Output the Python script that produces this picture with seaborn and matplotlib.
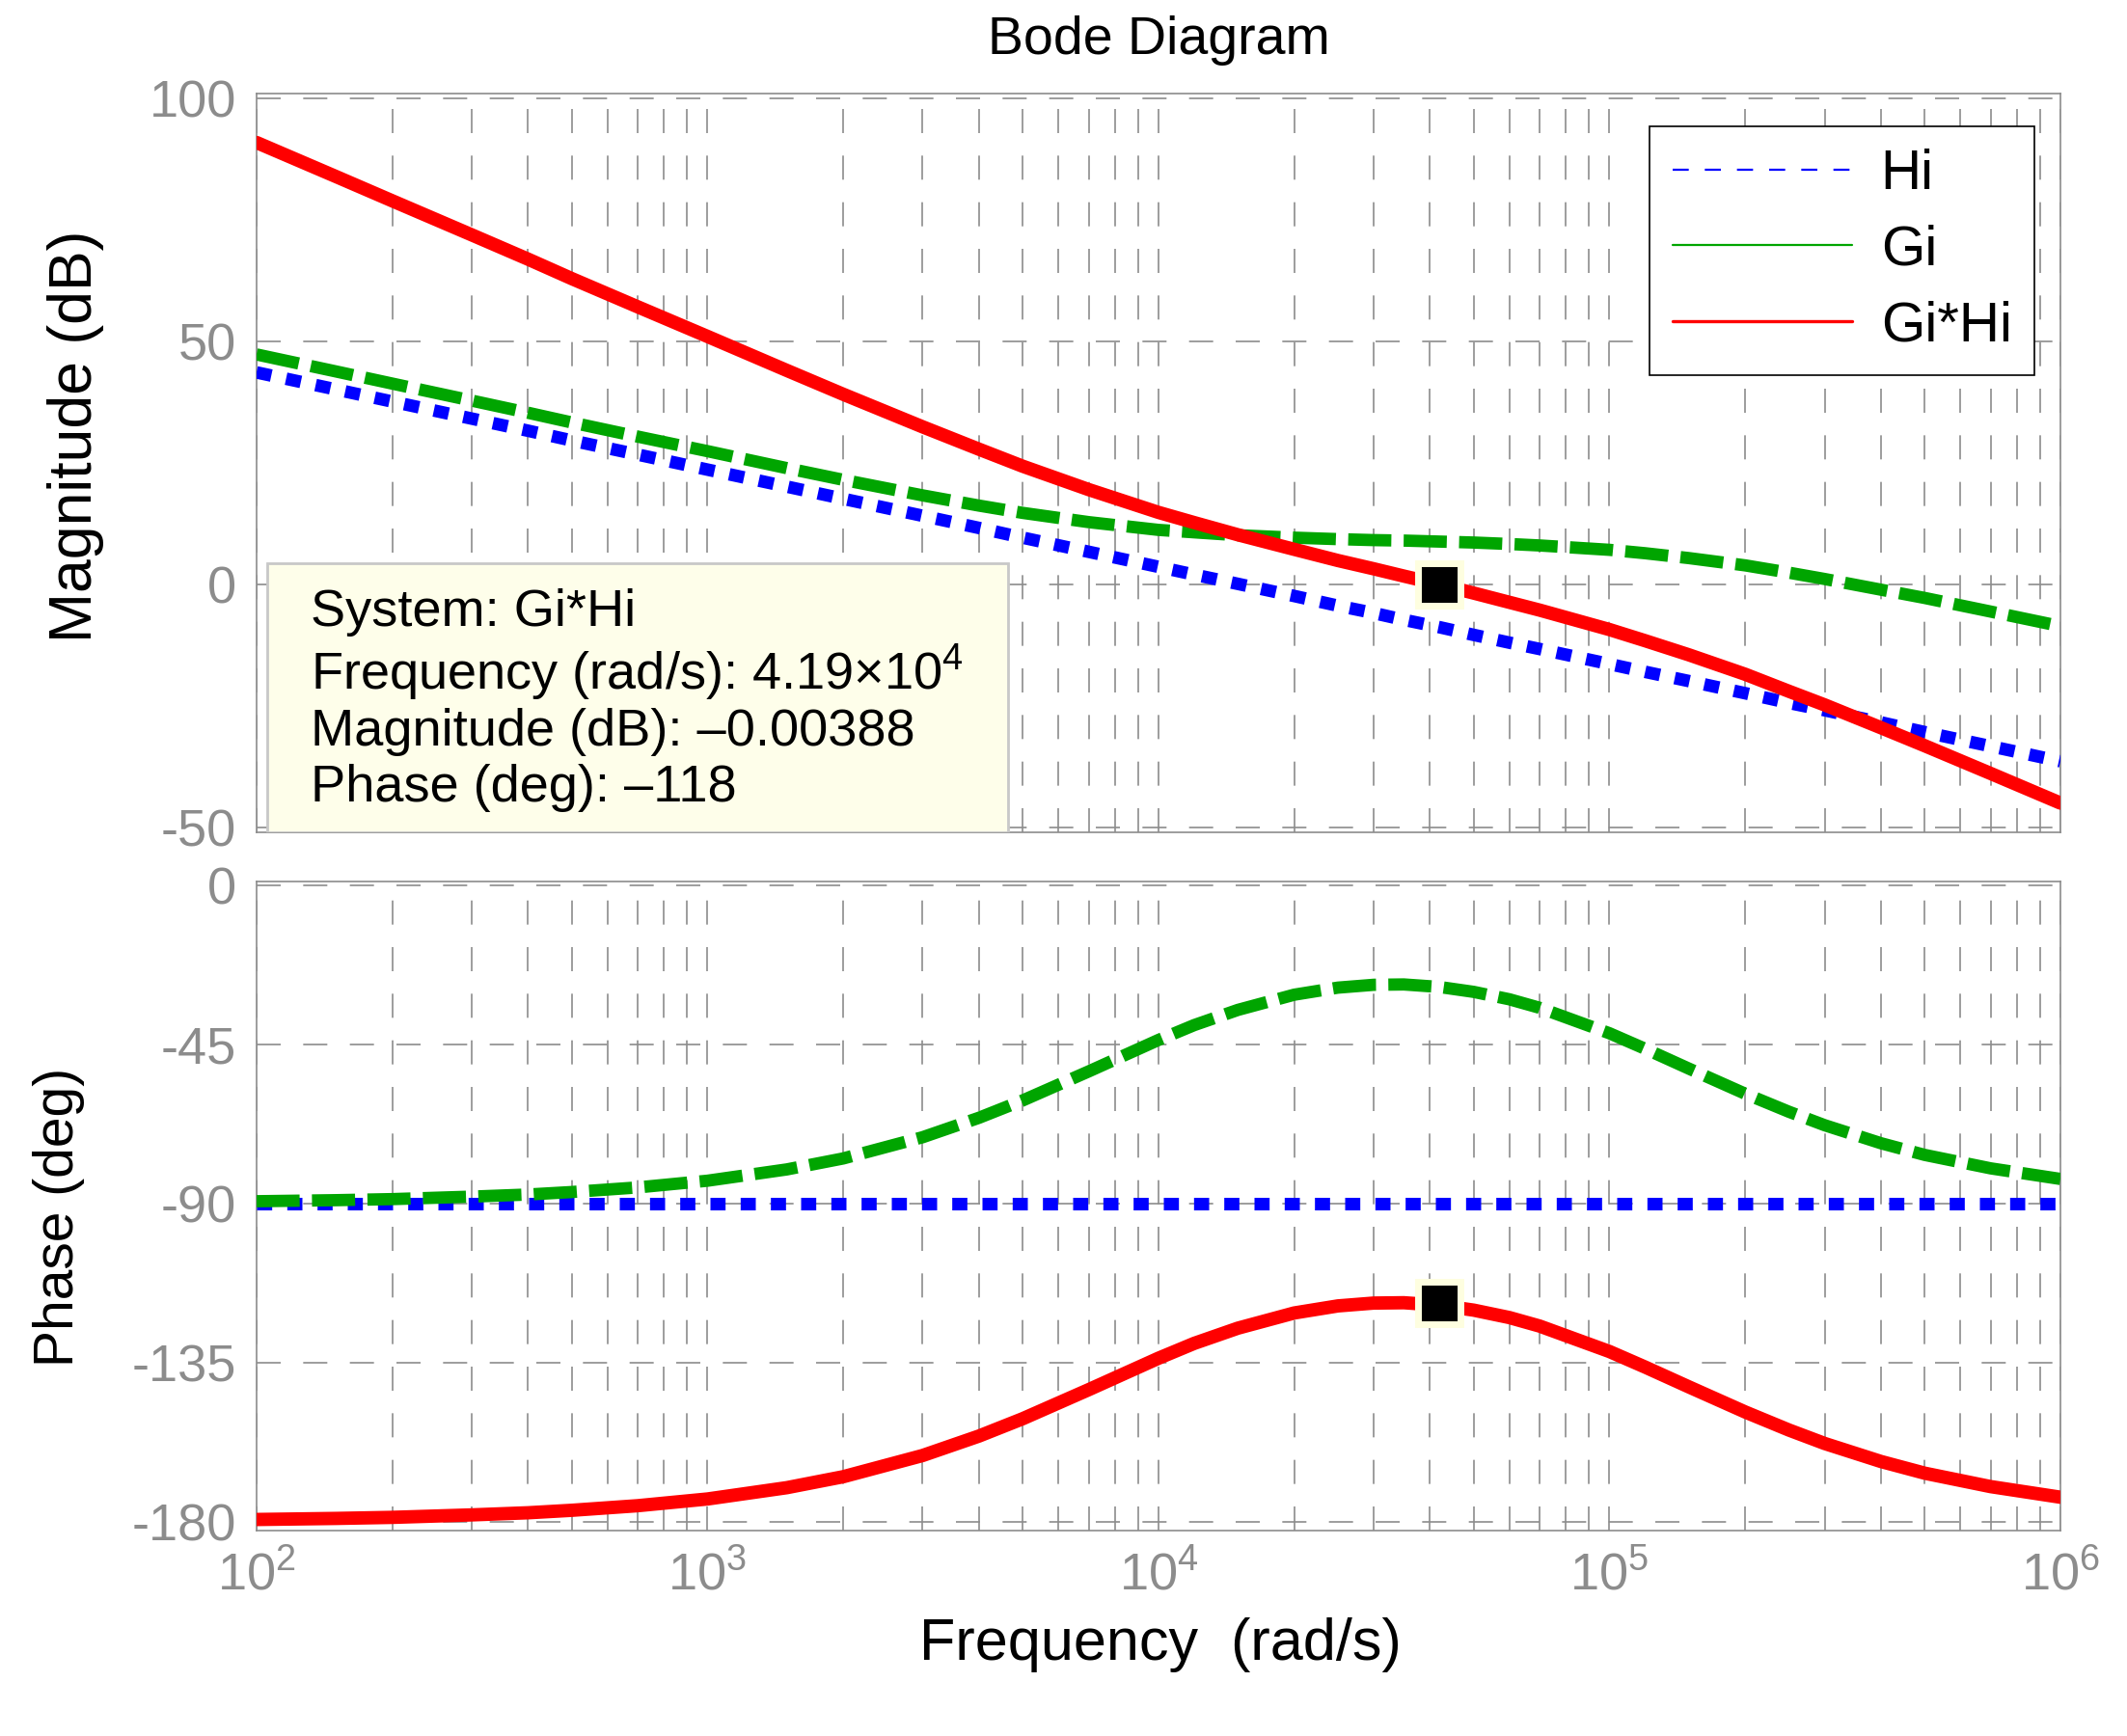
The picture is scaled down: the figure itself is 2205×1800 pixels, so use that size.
import matplotlib
matplotlib.use("Agg")
import matplotlib.pyplot as plt
import seaborn as sns
from matplotlib.lines import Line2D
from matplotlib.patches import Rectangle
from matplotlib.ticker import LogLocator, NullFormatter

# values
freq = [1e2, 1.5e2, 2e2, 3e2, 4e2, 5e2, 7e2,
        1e3, 1.5e3, 2e3, 3e3, 4e3, 5e3, 7e3,
        1e4, 1.2e4, 1.5e4, 2e4, 2.5e4, 3e4, 3.5e4, 4.19e4, 5e4, 6e4, 7e4,
        1e5, 1.2e5, 1.5e5, 2e5, 2.5e5, 3e5, 4e5, 5e5, 7e5, 1e6]

hi_mag = [43.6, 40.1, 37.6, 34.1, 31.6, 29.6, 26.7,
          23.6, 20.1, 17.6, 14.1, 11.6, 9.6, 6.7,
          3.6, 2.0, 0.1, -2.4, -4.4, -5.9, -7.3, -8.8, -10.4, -12.0, -13.3,
          -16.4, -18.0, -19.9, -22.4, -24.4, -25.9, -28.4, -30.4, -33.3, -36.4]
gi_mag = [47.3, 43.8, 41.3, 37.8, 35.3, 33.3, 30.4,
          27.4, 23.9, 21.5, 18.3, 16.2, 14.7, 12.8,
          11.2, 10.7, 10.1, 9.6, 9.3, 9.1, 9.0, 8.8, 8.6, 8.3, 8.0,
          7.1, 6.4, 5.4, 3.9, 2.4, 1.1, -1.1, -2.8, -5.6, -8.6]
gh_mag = [90.9, 83.9, 78.9, 71.9, 66.9, 62.9, 57.1,
          51.0, 44.0, 39.1, 32.4, 27.8, 24.3, 19.5,
          14.8, 12.7, 10.2, 7.2, 4.9, 3.2, 1.7, 0.0, -1.8, -3.7, -5.3,
          -9.3, -11.6, -14.5, -18.5, -22.0, -24.8, -29.5, -33.2, -38.9, -45.0]

hi_phase = [-90, -90, -90, -90, -90, -90, -90,
            -90, -90, -90, -90, -90, -90, -90,
            -90, -90, -90, -90, -90, -90, -90, -90, -90, -90, -90,
            -90, -90, -90, -90, -90, -90, -90, -90, -90, -90]
gi_phase = [-89.3, -89.0, -88.7, -88.0, -87.4, -86.7, -85.4,
            -83.5, -80.3, -77.2, -71.2, -65.7, -60.8, -52.6,
            -43.7, -39.5, -35.2, -30.9, -28.9, -28.1, -28.0, -28.7, -30.1, -32.2, -34.6,
            -41.8, -46.2, -51.8, -58.9, -64.0, -67.8, -72.9, -76.2, -80.0, -83.0]
gh_phase = [-179.3, -179.0, -178.7, -178.0, -177.4, -176.7, -175.4,
            -173.5, -170.3, -167.2, -161.2, -155.7, -150.8, -142.6,
            -133.7, -129.5, -125.2, -120.9, -118.9, -118.1, -118.0, -118.7, -120.1, -122.2, -124.6,
            -131.8, -136.2, -141.8, -148.9, -154.0, -157.8, -162.9, -166.2, -170.0, -173.0]

# data tip
tip_freq = 4.19e4
tip_mag = -0.00388
tip_phase = -118

labels = ["Hi", "Gi", "Gi*Hi"]
blue = "#0000ff"
green = "#00a500"
red = "#ff0000"
gray = "#8c8c8c"

sns.set_theme(style="white")
plt.rcParams["font.family"] = ["Liberation Sans", "DejaVu Sans"]
plt.rcParams["text.color"] = "black"
plt.rcParams["axes.unicode_minus"] = False
plt.rcParams["mathtext.fontset"] = "custom"
plt.rcParams["mathtext.rm"] = "Liberation Sans"
plt.rcParams["mathtext.it"] = "Liberation Sans:italic"
plt.rcParams["mathtext.bf"] = "Liberation Sans:bold"

fig = plt.figure(figsize=(11.025, 9), dpi=200)
ax_mag = fig.add_axes([0.1206, 0.5206, 0.8481, 0.4256])
ax_ph = fig.add_axes([0.1206, 0.1183, 0.8481, 0.3739])

for ax, hi, gi, gh in [(ax_mag, hi_mag, gi_mag, gh_mag),
                       (ax_ph, hi_phase, gi_phase, gh_phase)]:
    ax.set_xscale("log")
    sns.lineplot(x=freq, y=hi, ax=ax, color=blue, lw=4.7,
                 linestyle=(0, (1.2, 1.2)), legend=False, zorder=3)
    sns.lineplot(x=freq, y=gi, ax=ax, color=green, lw=4.6,
                 linestyle=(0, (3.5, 1.0)), legend=False, zorder=3)
    sns.lineplot(x=freq, y=gh, ax=ax, color=red, lw=5, legend=False, zorder=3)
    ax.set_xlim(1e2, 1e6)
    ax.xaxis.set_major_locator(LogLocator(base=10, numticks=10))
    ax.xaxis.set_minor_locator(LogLocator(base=10, subs=range(2, 10), numticks=50))
    ax.xaxis.set_minor_formatter(NullFormatter())
    ax.grid(True, which="major", axis="both", color=gray, lw=0.6, ls=(0, (15, 14)))
    ax.grid(True, which="minor", axis="x", color=gray, lw=0.6, ls=(0, (15, 14)))
    ax.set_axisbelow(True)
    ax.tick_params(which="both", length=0, labelsize=19.5, labelcolor=gray, pad=7.5)
    for sp in ax.spines.values():
        sp.set_color(gray)
        sp.set_linewidth(0.6)
    ax.set_xlabel("")
    ax.set_ylabel("")

ax_mag.set_ylim(-51, 101)
ax_mag.set_yticks([-50, 0, 50, 100])
ax_mag.tick_params(labelbottom=False)
ax_ph.set_ylim(-182.45, 1.1)
ax_ph.set_yticks([-180, -135, -90, -45, 0])

# markers of the data tip
ax_mag.plot([tip_freq], [tip_mag], marker="s", ms=15.5, mfc="black",
            mec="#fefee0", mew=2.5, ls="none", zorder=7)
ax_ph.plot([tip_freq], [tip_phase], marker="s", ms=15.5, mfc="black",
           mec="#fefee0", mew=2.5, ls="none", zorder=7)

# data tip box
ax_mag.add_patch(Rectangle((0.0059, 0.0), 0.4107, 0.3642, transform=ax_mag.transAxes,
                           facecolor="#fefeea", edgecolor="#c8c8c8", lw=1, zorder=5))
tip_lines = ["System: Gi*Hi",
             "Frequency (rad/s): 4.19$\\times$10$^{4}$",
             "Magnitude (dB): \u20130.00388",
             "Phase (deg): \u2013118"]
for txt, yy in zip(tip_lines, [0.2977, 0.2154, 0.1358, 0.06]):
    ax_mag.text(0.030, yy, txt, transform=ax_mag.transAxes, ha="left", va="center",
                fontsize=19.5, color="black", zorder=6)

handles = [Line2D([], [], color=blue, lw=0.8, ls=(0, (7.5, 7.5))),
           Line2D([], [], color=green, lw=0.8),
           Line2D([], [], color=red, lw=1.2)]
leg = ax_mag.legend(handles, labels, loc="upper right", bbox_to_anchor=(0.9855, 0.9556),
                    borderaxespad=0, fontsize=21, frameon=True, fancybox=False,
                    edgecolor="black", framealpha=1, handlelength=3.2,
                    handletextpad=0.5, labelspacing=0.42, borderpad=0.4,
                    labelcolor="black")
leg.get_frame().set_linewidth(0.6)
leg.set_zorder(8)

fig.text(1201 / 2205, 1 - 42 / 1800, "Bode Diagram", ha="center", va="center",
         fontsize=20, color="black")
fig.text(1203 / 2205, 1 - 1706 / 1800, "Frequency  (rad/s)", ha="center", va="center",
         fontsize=22, color="black")
fig.text(79 / 2205, 1 - 452 / 1800, "Magnitude (dB)", rotation=90, ha="center",
         va="center", fontsize=22.5, color="black")
fig.text(61 / 2205, 1 - 1262 / 1800, "Phase (deg)", rotation=90, ha="center",
         va="center", fontsize=20.5, color="black")

fig.savefig("out.png", dpi=200)
